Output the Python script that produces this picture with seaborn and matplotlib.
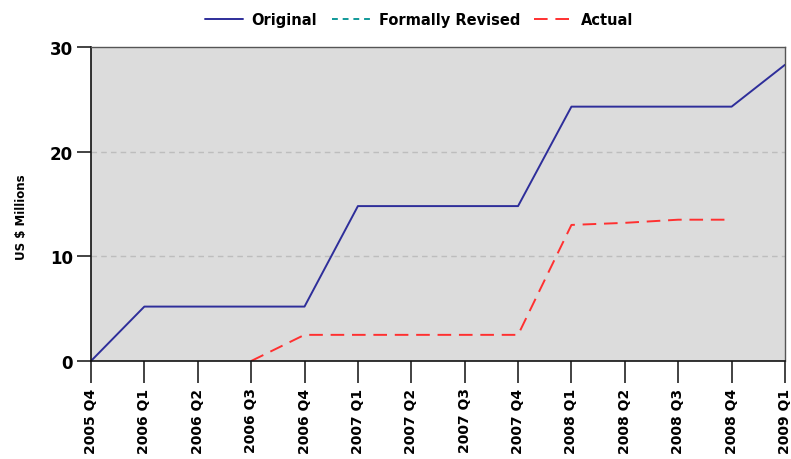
import numpy as np
import pandas as pd
import matplotlib
matplotlib.use("Agg")
import matplotlib.pyplot as plt
import seaborn as sns
from matplotlib.lines import Line2D

quarters = ["2005 Q4", "2006 Q1", "2006 Q2", "2006 Q3", "2006 Q4", "2007 Q1", "2007 Q2",
            "2007 Q3", "2007 Q4", "2008 Q1", "2008 Q2", "2008 Q3", "2008 Q4", "2009 Q1"]
original = [0.0, 5.2, 5.2, 5.2, 5.2, 14.8, 14.8, 14.8, 14.8, 24.3, 24.3, 24.3, 24.3, 28.3]
actual = [np.nan, np.nan, np.nan, 0.0, 2.5, 2.5, 2.5, 2.5, 2.5, 13.0, 13.2, 13.5, 13.5, np.nan]
formally_revised = [np.nan] * len(quarters)

sns.set_theme(style="white")
plt.rcParams['font.family'] = ['DejaVu Sans']
plt.rcParams['text.color'] = 'black'
plt.rcParams['axes.labelcolor'] = 'black'
plt.rcParams['xtick.color'] = 'black'
plt.rcParams['ytick.color'] = 'black'

pos = np.arange(len(quarters))
df_o = pd.DataFrame({"x": pos, "y": original})
df_a = pd.DataFrame({"x": pos, "y": actual}).dropna()

fig = plt.figure(figsize=(7.91, 4.60), dpi=100)
ax = fig.add_axes([0.115, 0.213, 0.8774, 0.6827])
ax.set_facecolor("#DCDCDC")

for yv in [10, 20]:
    ax.axhline(yv, color="#BDBDBD", lw=1, ls=(0, (4, 3)), zorder=0)

sns.lineplot(data=df_o, x="x", y="y", ax=ax, color="#2E2E9A", lw=1.4, legend=False)
sns.lineplot(data=df_a, x="x", y="y", ax=ax, color="#FF3030", lw=1.4, legend=False)
ax.lines[-1].set_dashes((7, 4))

ax.set_xlim(0, len(quarters) - 1)
ax.set_ylim(0, 30)
ax.set_xticks(pos)
ax.set_xticklabels(quarters, rotation=90, fontsize=10, fontweight="bold")
ax.set_yticks([0, 10, 20, 30])
ax.set_yticklabels(["0", "10", "20", "30"], fontsize=12, fontweight="bold")
ax.tick_params(axis="x", length=16, width=1.2, color="#222222", pad=3, bottom=True)
ax.tick_params(axis="y", length=10, width=1.2, color="#222222", pad=3, left=True)
ax.set_xlabel("")
ax.set_ylabel("US $ Millions", fontsize=8.5, fontweight="bold")
ax.yaxis.set_label_coords(-0.091, 0.46)

for s in ["left", "bottom"]:
    ax.spines[s].set_color("#111111")
    ax.spines[s].set_linewidth(1.2)
for s in ["top", "right"]:
    ax.spines[s].set_color("#555555")
    ax.spines[s].set_linewidth(1.0)

handles = [Line2D([], [], color="#2E2E9A", lw=1.4),
           Line2D([], [], color="#119999", lw=1.4, dashes=(3, 2.5)),
           Line2D([], [], color="#FF3030", lw=1.4, dashes=(7, 4))]
fig.legend(handles, ["Original", "Formally Revised", "Actual"], loc="upper center",
           bbox_to_anchor=(0.53, 1.0), ncol=3, frameon=False,
           prop={"weight": "bold", "size": 10.5}, handlelength=2.6, columnspacing=1.0,
           handletextpad=0.6)

fig.savefig("out.png", dpi=100)
